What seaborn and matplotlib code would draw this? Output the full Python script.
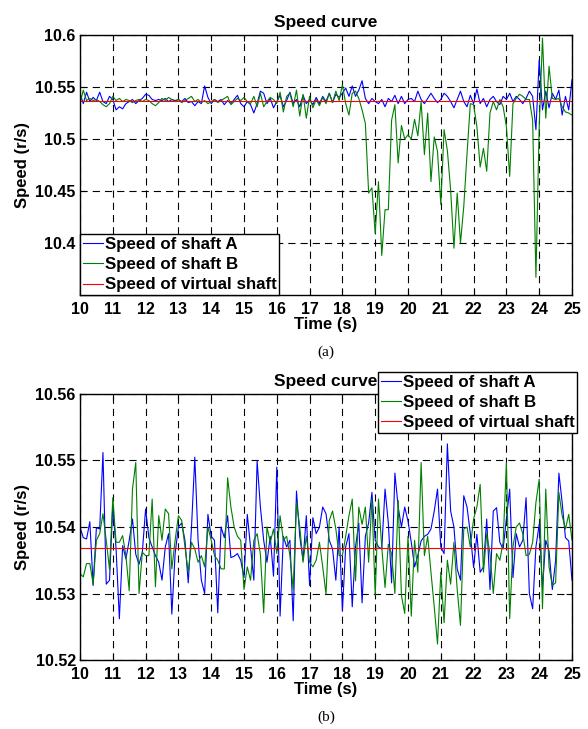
import numpy as np
import pandas as pd
import seaborn as sns
import matplotlib
matplotlib.use("Agg")
import matplotlib.pyplot as plt

# time axis, 0.1 s sampling
time_s = np.round(np.arange(10.0, 25.01, 0.1), 1)
virtual_speed = 10.5368

# (a) speeds
speed_a_top = [
    10.544, 10.534, 10.545, 10.536, 10.540, 10.537, 10.545, 10.536, 10.534, 10.541,
    10.538, 10.528, 10.531, 10.529, 10.534, 10.536, 10.538, 10.534, 10.537, 10.539,
    10.543, 10.542, 10.538, 10.537, 10.538, 10.537, 10.539, 10.536, 10.538, 10.537,
    10.538, 10.536, 10.539, 10.535, 10.536, 10.532, 10.536, 10.534, 10.551, 10.540,
    10.534, 10.538, 10.536, 10.538, 10.533, 10.537, 10.534, 10.538, 10.542, 10.534,
    10.531, 10.536, 10.533, 10.525, 10.534, 10.546, 10.544, 10.534, 10.539, 10.530,
    10.536, 10.542, 10.531, 10.537, 10.545, 10.534, 10.538, 10.531, 10.542, 10.534,
    10.538, 10.533, 10.540, 10.534, 10.541, 10.536, 10.544, 10.535, 10.543, 10.540,
    10.544, 10.549, 10.541, 10.551, 10.541, 10.547, 10.556, 10.539, 10.534, 10.539,
    10.536, 10.534, 10.538, 10.531, 10.539, 10.536, 10.542, 10.534, 10.541, 10.534,
    10.538, 10.539, 10.536, 10.546, 10.538, 10.534, 10.539, 10.544, 10.539, 10.535,
    10.538, 10.544, 10.541, 10.536, 10.530, 10.538, 10.546, 10.536, 10.531, 10.542,
    10.534, 10.548, 10.534, 10.539, 10.531, 10.538, 10.541, 10.536, 10.533, 10.541,
    10.538, 10.544, 10.536, 10.541, 10.538, 10.534, 10.539, 10.546, 10.541, 10.509,
    10.576, 10.528, 10.546, 10.530, 10.544, 10.538, 10.547, 10.523, 10.541, 10.528,
    10.557,
]
speed_b_top = [
    10.534, 10.547, 10.537, 10.539, 10.537, 10.538, 10.536, 10.533, 10.531, 10.534,
    10.541, 10.537, 10.539, 10.536, 10.538, 10.537, 10.535, 10.537, 10.538, 10.536,
    10.538, 10.537, 10.534, 10.532, 10.535, 10.539, 10.537, 10.540, 10.538, 10.536,
    10.538, 10.535, 10.537, 10.539, 10.541, 10.536, 10.538, 10.535, 10.537, 10.534,
    10.536, 10.538, 10.535, 10.537, 10.539, 10.541, 10.533, 10.536, 10.539, 10.537,
    10.540, 10.536, 10.534, 10.541, 10.531, 10.544, 10.531, 10.536, 10.540, 10.538,
    10.534, 10.545, 10.526, 10.541, 10.544, 10.531, 10.547, 10.522, 10.543, 10.520,
    10.541, 10.530, 10.538, 10.532, 10.540, 10.534, 10.544, 10.535, 10.546, 10.537,
    10.552, 10.534, 10.523, 10.544, 10.546, 10.539, 10.528, 10.515, 10.448, 10.453,
    10.409, 10.459, 10.388, 10.432, 10.432, 10.518, 10.533, 10.477, 10.513, 10.500,
    10.504, 10.500, 10.519, 10.503, 10.536, 10.485, 10.525, 10.459, 10.502, 10.488,
    10.437, 10.509, 10.489, 10.451, 10.395, 10.448, 10.400, 10.435, 10.486, 10.534,
    10.533, 10.512, 10.473, 10.491, 10.469, 10.525, 10.536, 10.528, 10.538, 10.531,
    10.512, 10.464, 10.534, 10.539, 10.543, 10.541, 10.538, 10.538, 10.518, 10.367,
    10.512, 10.597, 10.520, 10.570, 10.539, 10.538, 10.539, 10.531, 10.526, 10.525,
    10.523,
]

# (b) speeds
speed_a_bot = [
    10.5400, 10.5384, 10.5382, 10.5408, 10.5312, 10.5399, 10.5397, 10.5512, 10.5314, 10.5320,
    10.5432, 10.5367, 10.5262, 10.5372, 10.5352, 10.5380, 10.5412, 10.5359, 10.5344, 10.5362,
    10.5427, 10.5384, 10.5370, 10.5357, 10.5347, 10.5320, 10.5370, 10.5390, 10.5269, 10.5360,
    10.5400, 10.5406, 10.5380, 10.5316, 10.5400, 10.5505, 10.5380, 10.5320, 10.5300, 10.5419,
    10.5386, 10.5380, 10.5271, 10.5400, 10.5384, 10.5417, 10.5354, 10.5356, 10.5360, 10.5350,
    10.5324, 10.5419, 10.5370, 10.5320, 10.5499, 10.5430, 10.5380, 10.5347, 10.5386, 10.5326,
    10.5490, 10.5266, 10.5386, 10.5370, 10.5380, 10.5259, 10.5454, 10.5386, 10.5350, 10.5417,
    10.5312, 10.5414, 10.5390, 10.5400, 10.5430, 10.5420, 10.5380, 10.5367, 10.5320, 10.5400,
    10.5274, 10.5370, 10.5390, 10.5280, 10.5370, 10.5406, 10.5286, 10.5386, 10.5406, 10.5452,
    10.5380, 10.5370, 10.5367, 10.5457, 10.5406, 10.5316, 10.5481, 10.5430, 10.5400, 10.5430,
    10.5409, 10.5377, 10.5340, 10.5357, 10.5379, 10.5386, 10.5389, 10.5397, 10.5424, 10.5457,
    10.5370, 10.5360, 10.5525, 10.5424, 10.5400, 10.5337, 10.5320, 10.5447, 10.5430, 10.5390,
    10.5339, 10.5389, 10.5332, 10.5340, 10.5412, 10.5306, 10.5424, 10.5429, 10.5377, 10.5367,
    10.5412, 10.5457, 10.5324, 10.5390, 10.5370, 10.5380, 10.5444, 10.5300, 10.5277, 10.5370,
    10.5404, 10.5309, 10.5380, 10.5364, 10.5306, 10.5349, 10.5481, 10.5437, 10.5384, 10.5379,
    10.5320,
]
speed_b_bot = [
    10.5330, 10.5325, 10.5345, 10.5345, 10.5314, 10.5380, 10.5390, 10.5420, 10.5380, 10.5336,
    10.5444, 10.5377, 10.5377, 10.5387, 10.5357, 10.5304, 10.5457, 10.5497, 10.5300, 10.5362,
    10.5357, 10.5357, 10.5442, 10.5310, 10.5417, 10.5380, 10.5427, 10.5420, 10.5337, 10.5380,
    10.5417, 10.5410, 10.5370, 10.5332, 10.5377, 10.5367, 10.5347, 10.5357, 10.5340, 10.5400,
    10.5380, 10.5357, 10.5350, 10.5337, 10.5337, 10.5474, 10.5430, 10.5400, 10.5386, 10.5380,
    10.5306, 10.5340, 10.5320, 10.5380, 10.5390, 10.5359, 10.5271, 10.5400, 10.5377, 10.5397,
    10.5360, 10.5417, 10.5380, 10.5386, 10.5357, 10.5306, 10.5437, 10.5400, 10.5347, 10.5386,
    10.5347, 10.5340, 10.5350, 10.5377, 10.5340, 10.5299, 10.5410, 10.5424, 10.5397, 10.5357,
    10.5357, 10.5386, 10.5417, 10.5442, 10.5319, 10.5430, 10.5404, 10.5430, 10.5347, 10.5442,
    10.5297, 10.5442, 10.5370, 10.5309, 10.5374, 10.5360, 10.5300, 10.5440, 10.5297, 10.5270,
    10.5386, 10.5266, 10.5380, 10.5332, 10.5497, 10.5357, 10.5386, 10.5332, 10.5280, 10.5224,
    10.5332, 10.5256, 10.5350, 10.5314, 10.5377, 10.5306, 10.5252, 10.5397, 10.5400, 10.5370,
    10.5412, 10.5430, 10.5464, 10.5332, 10.5390, 10.5360, 10.5300, 10.5360, 10.5350, 10.5377,
    10.5497, 10.5262, 10.5370, 10.5400, 10.5406, 10.5390, 10.5357, 10.5359, 10.5377, 10.5437,
    10.5472, 10.5277, 10.5457, 10.5340, 10.5312, 10.5316, 10.5452, 10.5417, 10.5397, 10.5419,
    10.5380,
]

labels = ["Speed of shaft A", "Speed of shaft B", "Speed of virtual shaft"]
colors = {"Speed of shaft A": "#0000ff", "Speed of shaft B": "#008000",
          "Speed of virtual shaft": "#ff0000"}


def to_long(a, b):
    n = len(time_s)
    return pd.DataFrame({
        "t": np.tile(time_s, 3),
        "v": np.concatenate([a, b, np.full(n, virtual_speed)]),
        "s": np.repeat(labels, n),
    })


plt.rcParams["font.family"] = ["Liberation Sans", "DejaVu Sans"]
plt.rcParams["font.weight"] = "bold"
plt.rcParams["axes.labelweight"] = "bold"
plt.rcParams["axes.titleweight"] = "bold"

fig = plt.figure(figsize=(5.88, 7.29), dpi=100)
ax1 = fig.add_axes([80 / 588, 1 - 295 / 729, 492 / 588, 260 / 729])
ax2 = fig.add_axes([80 / 588, 1 - 660 / 729, 492 / 588, 266 / 729])

panels = [
    (ax1, to_long(speed_a_top, speed_b_top), (10.35, 10.6), [10.4, 10.45, 10.5, 10.55, 10.6], "%g"),
    (ax2, to_long(speed_a_bot, speed_b_bot), (10.52, 10.56), [10.52, 10.53, 10.54, 10.55, 10.56], "%.2f"),
]

for ax, df, ylim, yticks, fmt in panels:
    sns.lineplot(data=df, x="t", y="v", hue="s", palette=colors, ax=ax,
                 linewidth=0.8, estimator=None, sort=False)
    ax.set_xlim(10, 25)
    ax.set_ylim(*ylim)
    ax.set_xticks(range(10, 26))
    ax.set_yticks(yticks)
    ax.yaxis.set_major_formatter(matplotlib.ticker.FormatStrFormatter(fmt))
    ax.grid(True, color="black", linestyle=(0, (6.5, 4.5)), linewidth=0.8)
    ax.set_axisbelow(True)
    ax.tick_params(direction="in", top=True, right=True, length=4, labelsize=11.5, pad=3)
    ax.tick_params(axis="x", pad=5)
    for sp in ax.spines.values():
        sp.set_linewidth(1.0)
    ax.set_title("Speed curve", fontsize=12.5, pad=6)
    ax.set_xlabel("Time (s)", fontsize=12, labelpad=0)
    ax.set_ylabel("Speed (r/s)", fontsize=12, labelpad=4)

leg_kw = dict(borderaxespad=0, fontsize=12.2, handlelength=1.2, handletextpad=0.1,
              labelspacing=0.32, borderpad=0.15, fancybox=False, edgecolor="black",
              framealpha=1)
h, l = ax1.get_legend_handles_labels()
ax1.legend(h, l, loc="lower left", bbox_to_anchor=(0, 0), **leg_kw)
h, l = ax2.get_legend_handles_labels()
leg = ax2.legend(h, l, loc="upper right", bbox_to_anchor=(577 / 588, 1 - 372 / 729),
                 bbox_transform=fig.transFigure, **leg_kw)
leg.set_zorder(10)

fig.text(326 / 588, 1 - 352 / 729, "(a)", ha="center", va="center",
         family=["Liberation Serif"], weight="normal", fontsize=11)
fig.text(326 / 588, 1 - 717 / 729, "(b)", ha="center", va="center",
         family=["Liberation Serif"], weight="normal", fontsize=11)

fig.savefig("out.png", dpi=100)
